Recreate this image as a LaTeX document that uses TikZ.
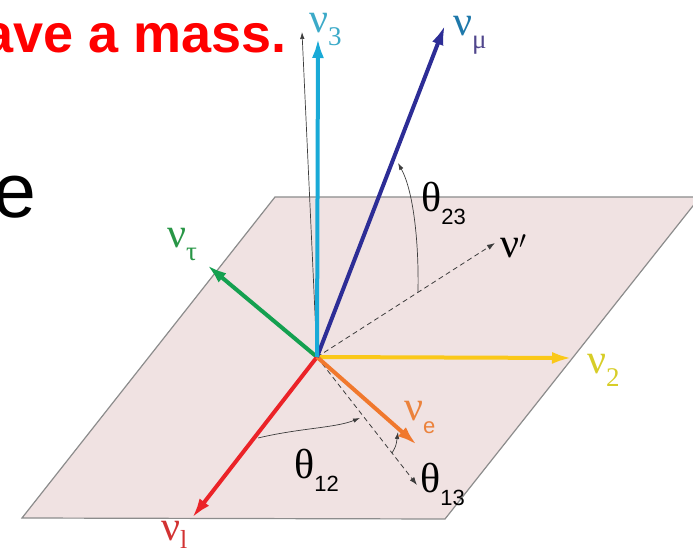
\documentclass[tikz,border=0pt]{standalone}
\usepackage{fontspec}
\setmainfont{Liberation Serif}
\newfontfamily\arialf{Liberation Sans}
\usetikzlibrary{arrows.meta}
\definecolor{planefill}{RGB}{240,226,226}
\definecolor{planeedge}{RGB}{140,140,140}
\definecolor{cyanv}{RGB}{25,170,215}
\definecolor{cyanl}{RGB}{60,170,200}
\definecolor{navyv}{RGB}{45,45,150}
\definecolor{mul}{RGB}{30,120,170}
\definecolor{mus}{RGB}{80,70,140}
\definecolor{greenv}{RGB}{20,160,80}
\definecolor{greenl}{RGB}{40,150,70}
\definecolor{yellowv}{RGB}{250,200,25}
\definecolor{yellowl}{RGB}{215,205,40}
\definecolor{redv}{RGB}{235,35,40}
\definecolor{redl}{RGB}{210,50,50}
\definecolor{orangev}{RGB}{240,120,45}
\definecolor{orangel}{RGB}{235,130,60}
\definecolor{titlered}{RGB}{255,0,0}
\definecolor{arcgray}{RGB}{60,60,60}
\newcommand\mysub[1]{\raisebox{-13pt}{\fontsize{27}{27}\selectfont #1}}
\newcommand\mysubsans[1]{\raisebox{-13pt}{\fontsize{22}{22}\arialf #1}}
\begin{document}
\begin{tikzpicture}[x=1pt,y=-1pt,
  vec/.style={line width=4pt,-{Latex[length=20pt,width=12pt]}},
  thinarr/.style={arcgray,line width=0.7pt,-{Latex[length=7pt,width=4.5pt]}},
  dasharr/.style={arcgray,line width=0.8pt,dash pattern=on 5pt off 3.5pt,-{Latex[length=8pt,width=5.5pt]}},
  lab/.style={inner sep=0pt,anchor=base west,font=\fontsize{42}{42}\selectfont},
  thlab/.style={inner sep=0pt,anchor=base west,font=\fontsize{42}{42}\selectfont}]
\useasboundingbox (0,0) rectangle (693,553);
% plane
\fill[planefill,draw=planeedge,line width=1.2pt] (275,197) -- (700,197) -- (445,519) -- (22,518) -- cycle;
\clip (0,0) rectangle (693,553);
% text
\node[inner sep=0pt,anchor=base east,text=titlered,font=\fontsize{54}{54}\arialf\bfseries] (title) at (287,53) {ave a mass.};
\node[inner sep=0pt,anchor=base west,font=\fontsize{77}{77}\arialf] (ee) at (-7,218) {e};
% coordinates
\coordinate (O) at (317,357);
\coordinate (t3) at (318,38);
\coordinate (tthin) at (302,32);
\coordinate (tmu) at (445,25);
\coordinate (ttau) at (207,265);
\coordinate (t2) at (572,358);
\coordinate (t1) at (192,518);
\coordinate (te) at (417,445);
\coordinate (tp) at (495,243);
\coordinate (t13) at (417,485);
% thin and dashed
\draw[thinarr] (O) -- (tthin);
\draw[dasharr] (O) -- (tp);
\draw[dasharr] (O) -- (t13);
% arcs
\coordinate (a23s) at (418,292); \coordinate (a23e) at (398,163);
\draw[thinarr] (a23s) .. controls (419,240) and (413,190) .. (a23e);
\coordinate (a12s) at (258,438); \coordinate (a12e) at (360,418);
\draw[thinarr] (a12s) .. controls (300,428) and (335,428) .. (a12e);
\coordinate (a13s) at (392,453); \coordinate (a13e) at (398,432);
\draw[thinarr] (a13s) .. controls (396,446) .. (a13e);
% vectors
\draw[vec,greenv] (O) -- (ttau);
\draw[vec,redv] (O) -- (t1);
\draw[vec,yellowv] (O) -- (t2);
\draw[vec,orangev] (O) -- (te);
\draw[vec,navyv] (O) -- (tmu);
\draw[vec,cyanv] (O) -- (t3);
% labels
\node[lab,text=cyanl] (l3) at (309,33) {ν\mysub{3}};
\node[lab] (lmu) at (453,36) {\textcolor{mul}{ν}\textcolor{mus}{\mysub{μ}}};
\node[lab,text=greenl] (ltau) at (167,248) {ν\mysub{τ}};
\node[lab,text=yellowl] (l2) at (587,373) {ν\mysub{2}};
\node[lab,text=redl] (l1) at (161,540) {ν\raisebox{-8pt}{\fontsize{26}{26}\selectfont l}};
\node[lab,text=orangel] (le) at (404,420) {ν\mysubsans{e}};
\node[lab] (lp) at (500,258) {ν$'$};
\node[thlab] (th23) at (421,212) {θ\mysubsans{23}};
\node[thlab] (th12) at (294,478) {θ\mysubsans{12}};
\node[thlab] (th13) at (420,492) {θ\mysubsans{13}};
\end{tikzpicture}
\end{document}
